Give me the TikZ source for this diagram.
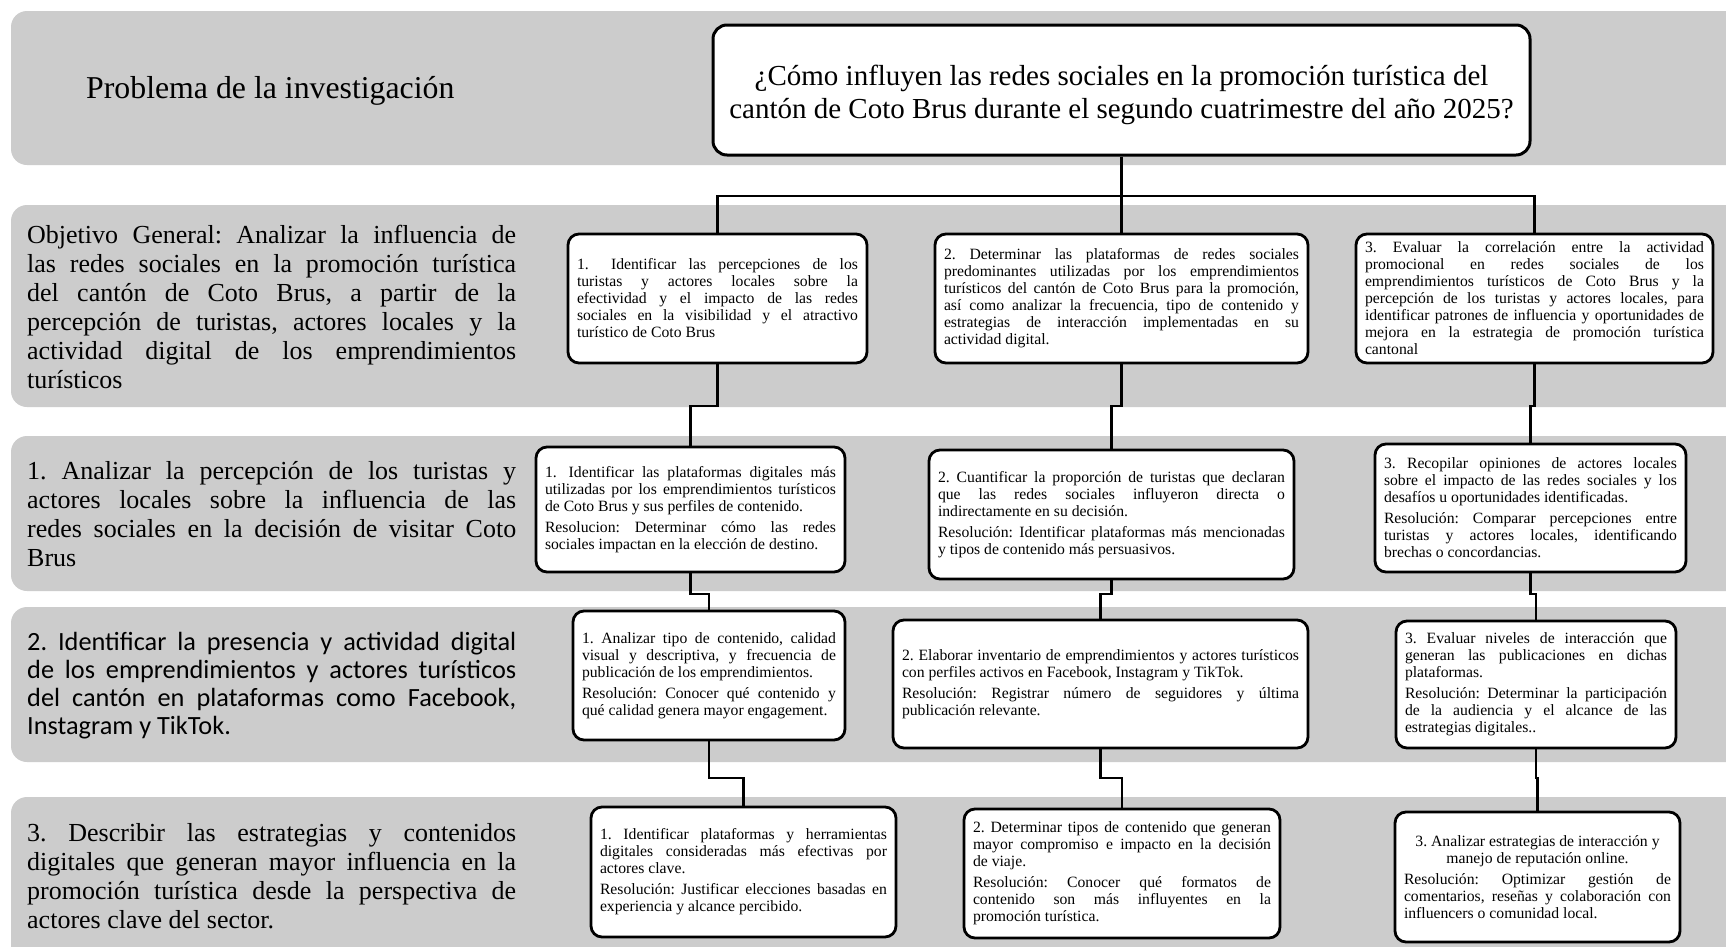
\documentclass[tikz,border=0pt]{standalone}
\usepackage{fontspec}
\setmainfont{Liberation Serif}
\newfontfamily\calib{Carlito}
\setlength{\parindent}{0pt}
\hyphenpenalty=10000 \exhyphenpenalty=10000
\tolerance=10000
\frenchspacing
\definecolor{bandgray}{RGB}{204,204,204}
\tikzset{
 band/.style={fill=bandgray, draw=none, rounded corners=16pt},
 sbox/.style={draw=black, line width=2.8pt, fill=white, rounded corners=11pt, inner xsep=9pt, inner ysep=3pt, align=justify, font=\fontsize{15.7}{17}\selectfont\frenchspacing},
 conn/.style={draw=black, line width=2.6pt},
 ltext/.style={anchor=west, text width=489pt, inner sep=0pt, align=justify, font=\fontsize{26}{29}\selectfont\frenchspacing},
 pbox/.style={draw=black, line width=3pt, fill=white, rounded corners=14pt},
 ptext/.style={align=center, inner sep=0pt, font=\fontsize{29}{33}\selectfont},
}
\newcommand\mkbox[6]{%
 \pgfmathsetmacro\mkW{#4-#2}%
 \pgfmathsetmacro\mkH{#5-#3}%
 \pgfmathsetmacro\mkT{#4-#2-18}%
 \pgfmathsetmacro\mkX{(#2+#4)/2}%
 \pgfmathsetmacro\mkY{(#3+#5)/2}%
 \node[sbox, minimum width=\mkW pt, minimum height=\mkH pt, text width=\mkT pt] (#1) at (\mkX,\mkY) {#6};}
\newcommand\rsep{\par\vspace{4pt}}
\begin{document}
\begin{tikzpicture}[x=1pt,y=-1pt]
\useasboundingbox (0,0) rectangle (1726,946);
\fill[white] (0,0) rectangle (1726,946);
% bands
\path[band] (11,11) rectangle (1780,165);
\path[band] (11,205) rectangle (1780,407);
\path[band] (11,436) rectangle (1780,591);
\path[band] (11,607) rectangle (1780,762);
\path[band] (11,797) rectangle (1780,1000);
% left texts
\node[anchor=west, inner sep=0pt, font=\fontsize{31.8}{36}\selectfont] (prob) at (86,91) {Problema de la investigación};
\node[ltext] (og) at (27,307) {Objetivo General: Analizar la influencia de\linebreak
las redes sociales en la promoción turística\linebreak
del cantón de Coto Brus, a partir de la\linebreak
percepción de turistas, actores locales y la\linebreak
actividad digital de los emprendimientos\linebreak
turísticos};
\node[ltext] (o1) at (27,514) {1. Analizar la percepción de los turistas y\linebreak
actores locales sobre la influencia de las\linebreak
redes sociales en la decisión de visitar Coto\linebreak
Brus};
\node[ltext, font=\calib\fontsize{26.3}{28}\selectfont\frenchspacing] (o2) at (27,686) {2. Identificar la presencia y actividad digital\linebreak
de los emprendimientos y actores turísticos\linebreak
del cantón en plataformas como Facebook,\linebreak
Instagram y TikTok.};
\node[ltext] (o3) at (27,876) {3. Describir las estrategias y contenidos\linebreak
digitales que generan mayor influencia en la\linebreak
promoción turística desde la perspectiva de\linebreak
actores clave del sector.};
% problem box
\node[pbox, minimum width=817pt, minimum height=130pt] (P) at (1121.5,90) {};
\node[ptext] (Pt) at ([yshift=-5pt]P.center) {¿Cómo influyen las redes sociales en la promoción turística del\\cantón de Coto Brus durante el segundo cuatrimestre del año 2025?};
% row A
\mkbox{A1}{568}{234}{867}{363}{1.\hspace{10pt} Identificar las percepciones de los\linebreak
turistas y actores locales sobre la\linebreak
efectividad y el impacto de las redes\linebreak
sociales en la visibilidad y el atractivo\linebreak
turístico de Coto Brus}
\mkbox{A2}{935}{234}{1308}{363}{2. Determinar las plataformas de redes sociales\linebreak
predominantes utilizadas por los emprendimientos\linebreak
turísticos del cantón de Coto Brus para la promoción,\linebreak
así como analizar la frecuencia, tipo de contenido y\linebreak
estrategias de interacción implementadas en su\linebreak
actividad digital.}
\mkbox{A3}{1356}{234}{1713}{363}{3. Evaluar la correlación entre la actividad\linebreak
promocional en redes sociales de los\linebreak
emprendimientos turísticos de Coto Brus y la\linebreak
percepción de los turistas y actores locales, para\linebreak
identificar patrones de influencia y oportunidades de\linebreak
mejora en la estrategia de promoción turística\linebreak
cantonal}
% row B
\mkbox{B1}{536}{447}{845}{572}{1.\hspace{4pt} Identificar las plataformas digitales más\linebreak
utilizadas por los emprendimientos turísticos\linebreak
de Coto Brus y sus perfiles de contenido.\rsep
Resolucion: Determinar cómo las redes\linebreak
sociales impactan en la elección de destino.}
\mkbox{B2}{929}{450}{1294}{579}{2. Cuantificar la proporción de turistas que declaran\linebreak
que las redes sociales influyeron directa o\linebreak
indirectamente en su decisión.\rsep
Resolución: Identificar plataformas más mencionadas\linebreak
y tipos de contenido más persuasivos.}
\mkbox{B3}{1375}{444}{1686}{572}{3. Recopilar opiniones de actores locales\linebreak
sobre el impacto de las redes sociales y los\linebreak
desafíos u oportunidades identificadas.\rsep
Resolución: Comparar percepciones entre\linebreak
turistas y actores locales, identificando\linebreak
brechas o concordancias.}
% row C
\mkbox{C1}{573}{611}{845}{740}{1. Analizar tipo de contenido, calidad\linebreak
visual y descriptiva, y frecuencia de\linebreak
publicación de los emprendimientos.\rsep
Resolución: Conocer qué contenido y\linebreak
qué calidad genera mayor engagement.}
\mkbox{C2}{893}{620}{1308}{748}{2. Elaborar inventario de emprendimientos y actores turísticos\linebreak
con perfiles activos en Facebook, Instagram y TikTok.\rsep
Resolución: Registrar número de seguidores y última\linebreak
publicación relevante.}
\mkbox{C3}{1396}{621}{1676}{748}{3. Evaluar niveles de interacción que\linebreak
generan las publicaciones en dichas\linebreak
plataformas.\rsep
Resolución: Determinar la participación\linebreak
de la audiencia y el alcance de las\linebreak
estrategias digitales..}
% row D
\mkbox{D1}{591}{807}{896}{937}{1. Identificar plataformas y herramientas\linebreak
digitales consideradas más efectivas por\linebreak
actores clave.\rsep
Resolución: Justificar elecciones basadas en\linebreak
experiencia y alcance percibido.}
\mkbox{D2}{964}{809}{1280}{938}{2. Determinar tipos de contenido que generan\linebreak
mayor compromiso e impacto en la decisión\linebreak
de viaje.\rsep
Resolución: Conocer qué formatos de\linebreak
contenido son más influyentes en la\linebreak
promoción turística.}
\mkbox{D3}{1395}{812}{1680}{942}{{\centering 3. Analizar estrategias de interacción y\\
manejo de reputación online.\par}\vspace{4pt}
Resolución: Optimizar gestión de\linebreak
comentarios, reseñas y colaboración con\linebreak
influencers o comunidad local.}
% connector levels
\coordinate (jP) at (0,196);
\coordinate (jAB) at (0,406);
\coordinate (jBC) at (0,594);
\coordinate (jCD) at (0,778);
% connectors
\draw[conn] (P.south) -- (A2.north);
\draw[conn] (A1.north) -- (A1.north |- jP) -- (A3.north |- jP) -- (A3.north);
\draw[conn] (A1.south) -- (A1.south |- jAB) -| (B1.north);
\draw[conn] (A2.south) -- (A2.south |- jAB) -| (B2.north);
\draw[conn] (A3.south) -- (A3.south |- jAB) -| (B3.north);
\draw[conn] (B1.south) -- (B1.south |- jBC) -| (C1.north);
\draw[conn] (B2.south) -- (B2.south |- jBC) -| (C2.north);
\draw[conn] (B3.south) -- (B3.south |- jBC) -| (C3.north);
\draw[conn] (C1.south) -- (C1.south |- jCD) -| (D1.north);
\draw[conn] (C2.south) -- (C2.south |- jCD) -| (D2.north);
\draw[conn] (C3.south) -- (C3.south |- jCD) -| (D3.north);
\end{tikzpicture}
\end{document}
